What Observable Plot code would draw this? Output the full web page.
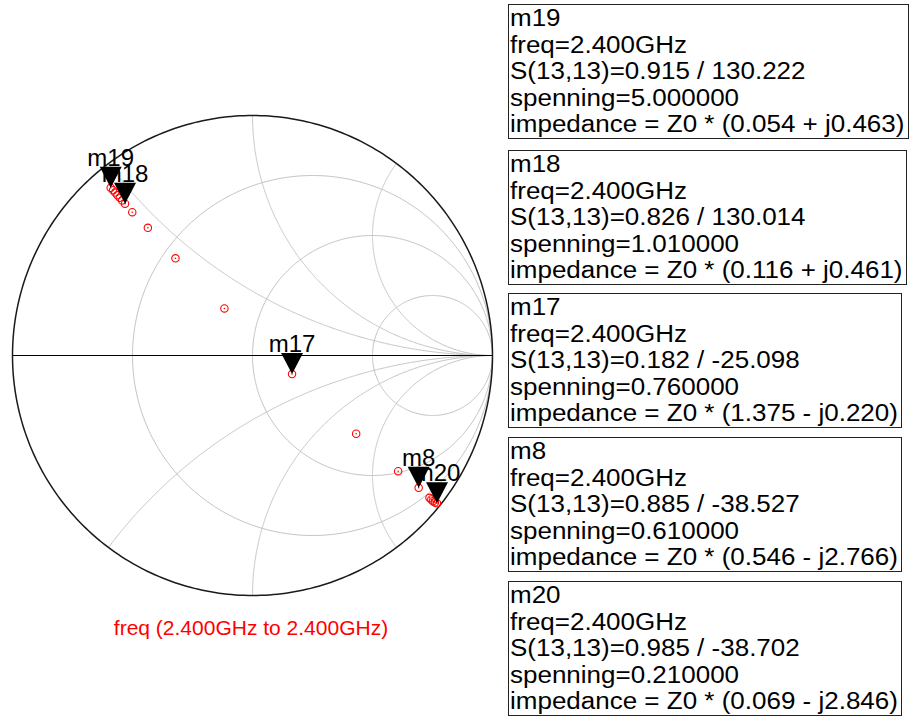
<!DOCTYPE html>
<html>
<head>
<meta charset="utf-8">
<script src="https://cdn.jsdelivr.net/npm/d3@7"></script>
<script src="https://cdn.jsdelivr.net/npm/@observablehq/plot@0.6"></script>
<style>
  html, body { margin: 0; padding: 0; background: #fff; }
  #wrap { position: relative; width: 910px; height: 716px; overflow: hidden;
          font-family: "Liberation Sans", Arial, sans-serif; }
  #chart { position: absolute; left: 0; top: 0; }
  .box { position: absolute; left: 508px; border: 1.5px solid #222; box-sizing: border-box;
         background: #fff; padding: 0 2px 0 1px; font-size: 23px; line-height: 26.6px;
         color: #000; white-space: nowrap; }
  .box .ln { display: block; height: 26.6px; }
  .box .ln span { display: inline-block; transform: scaleX(1.13); transform-origin: 0 0; }
  #caption { position: absolute; left: 0; width: 502px; text-align: center; top: 617px;
             color: #ff0000; font-size: 21px; line-height: 21px; }
</style>
</head>
<body>
<div id="wrap">
  <div id="chart"></div>
  <div id="caption"></div>
</div>
<script>
// Marker readouts: S(13,13) magnitude / angle (deg) at 2.4 GHz for several spenning values
const markerNames    = ["m19", "m18", "m17", "m8", "m20"];
const markerFreqGHz  = [2.4, 2.4, 2.4, 2.4, 2.4];
const markerMag      = [0.915, 0.826, 0.182, 0.885, 0.985];
const markerAngle    = [130.222, 130.014, -25.098, -38.527, -38.702];
const markerSpenning = [5.0, 1.01, 0.76, 0.61, 0.21];
const markerZRe      = [0.054, 0.116, 1.375, 0.546, 0.069];
const markerZIm      = [0.463, 0.461, -0.220, -2.766, -2.846];
const boxTops        = [4, 150, 293, 437, 581];

// Swept trace points (reflection coefficient, real / imaginary)
const traceRe = [-0.581, -0.572, -0.563, -0.553, -0.543, -0.501, -0.436, -0.321, -0.117,
                 0.432, 0.607, 0.7375, 0.745, 0.752, 0.760];
const traceIm = [0.689, 0.679, 0.668, 0.657, 0.646, 0.597, 0.532, 0.405, 0.196,
                 -0.326, -0.482, -0.593, -0.600, -0.607, -0.612];

// Smith chart grid: constant-resistance circles and constant-reactance arcs
const gridR = [1 / 3, 1, 3];
const gridX = [0.5, 1, 2, -0.5, -1, -2];

const caption = "freq (2.400GHz to 2.400GHz)";

// ---- geometry helpers ----
const gamma = (r, x) => {
  const d = (r + 1) ** 2 + x * x;
  return [(r * r - 1 + x * x) / d, (2 * x) / d];
};

const gridLines = [];
gridR.forEach((r, i) => {
  const c = r / (1 + r), rad = 1 / (1 + r);
  for (let k = 0; k <= 360; k++) {
    const t = (k * Math.PI) / 180;
    gridLines.push({id: "r" + i, u: c + rad * Math.cos(t), v: rad * Math.sin(t)});
  }
});
gridX.forEach((x, i) => {
  for (let k = 0; k <= 400; k++) {
    const t = (k / 400) * (Math.PI / 2) * 0.9995;
    const [u, v] = gamma(Math.tan(t), x);
    gridLines.push({id: "x" + i, u, v});
  }
  gridLines.push({id: "x" + i, u: 1, v: 0});
});

const outer = d3.range(0, 361).map(k => ({
  u: Math.cos((k * Math.PI) / 180), v: Math.sin((k * Math.PI) / 180)
}));

const markers = markerNames.map((name, i) => {
  const a = (markerAngle[i] * Math.PI) / 180;
  return {name, u: markerMag[i] * Math.cos(a), v: markerMag[i] * Math.sin(a)};
});

const trace = traceRe.map((u, i) => ({u, v: traceIm[i]})).concat(markers.map(m => ({u: m.u, v: m.v})));

// Inverted triangle with its tip at the anchor point
const markerSymbol = {
  draw(ctx) {
    ctx.moveTo(0, 0);
    ctx.lineTo(-11, -21);
    ctx.lineTo(11, -21);
    ctx.closePath();
  }
};

const chart = Plot.plot({
  width: 502,
  height: 716,
  margin: 0,
  x: {domain: [-1, 1], range: [12, 492], axis: null},
  y: {domain: [-1, 1], range: [595, 115], axis: null},
  style: {background: "transparent", overflow: "visible"},
  marks: [
    Plot.line(gridLines, {x: "u", y: "v", z: "id", stroke: "#c4c4c4", strokeWidth: 1}),
    Plot.ruleY([0], {x1: -1, x2: 1, stroke: "#000", strokeWidth: 1.2}),
    Plot.line(outer, {x: "u", y: "v", stroke: "#1a1a1a", strokeWidth: 1.5}),
    Plot.dot(trace, {x: "u", y: "v", r: 3.7, stroke: "#ff0000", strokeWidth: 1.1, fill: "none"}),
    Plot.dot(trace, {x: "u", y: "v", r: 0.8, fill: "#ff0000", stroke: "none"}),
    Plot.text(markers, {x: "u", y: "v", text: "name", dy: -22, lineAnchor: "bottom",
      fontSize: 24, fontFamily: "Liberation Sans, Arial, sans-serif", fill: "#000"}),
    Plot.dot(markers, {x: "u", y: "v", symbol: markerSymbol, fill: "#000", stroke: "none"})
  ]
});
document.getElementById("chart").append(chart);
document.getElementById("caption").textContent = caption;

// ---- marker readout boxes ----
const fmtZ = (re, im) => `(${re.toFixed(3)} ${im < 0 ? "-" : "+"} j${Math.abs(im).toFixed(3)})`;
const wrap = document.getElementById("wrap");
markerNames.forEach((name, i) => {
  const box = document.createElement("div");
  box.className = "box";
  box.style.top = boxTops[i] + "px";
  const lines = [
    name,
    `freq=${markerFreqGHz[i].toFixed(3)}GHz`,
    `S(13,13)=${markerMag[i].toFixed(3)} / ${markerAngle[i].toFixed(3)}`,
    `spenning=${markerSpenning[i].toFixed(6)}`,
    `impedance = Z0 * ${fmtZ(markerZRe[i], markerZIm[i])}`
  ];
  const spans = lines.map(t => {
    const d = document.createElement("div");
    d.className = "ln";
    const s = document.createElement("span");
    s.textContent = t;
    d.append(s);
    box.append(d);
    return s;
  });
  wrap.append(box);
  // the text is widened with a transform, so size the frame from the drawn extent
  const w = Math.max(...spans.map(s => s.getBoundingClientRect().width));
  box.style.width = Math.ceil(w + 1 + 2 + 3) + "px";
});
</script>
</body>
</html>
